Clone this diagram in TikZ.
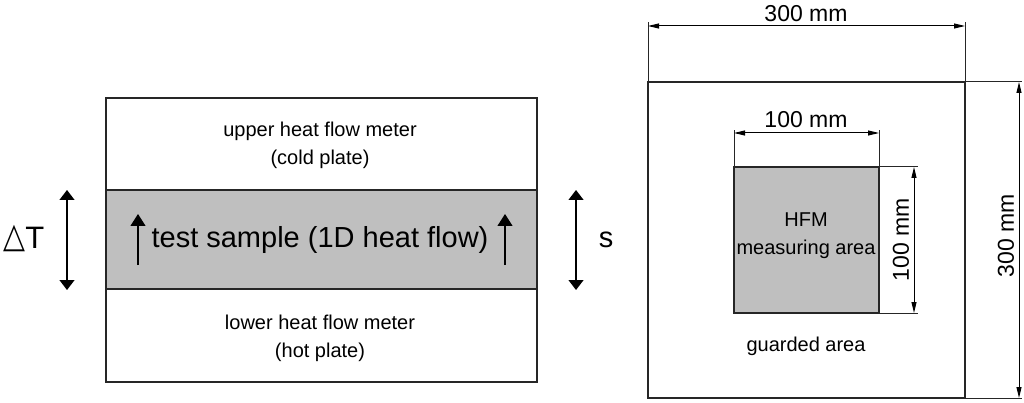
\documentclass[tikz,border=0pt]{standalone}
\usepackage{fontspec}
\setmainfont{Liberation Sans}
\newfontfamily\symfont{DejaVu Sans}
\usetikzlibrary{arrows.meta}
\definecolor{fillgray}{HTML}{BFBFBF}
\definecolor{linegray}{HTML}{262626}
\begin{document}
\begin{tikzpicture}[x=1pt,y=-1pt,
  box/.style={draw=linegray, line width=1.2pt, inner sep=0pt, outer sep=0pt, anchor=north west},
  grayfill/.style={fill=fillgray},
  lbl/.style={font=\fontsize{20}{28}\selectfont, align=center, inner sep=0pt},
  biglbl/.style={font=\fontsize{29}{34}\selectfont, inner sep=0pt},
  dimlbl/.style={font=\fontsize{23}{27}\selectfont, inner sep=0pt},
  bigarrow/.style={draw=black, line width=1.2pt, {Triangle[length=10pt,width=15pt]}-{Triangle[length=10pt,width=15pt]}},
  flowarrow/.style={draw=black, line width=1.2pt, -{Triangle[length=12pt,width=15pt]}},
  dimline/.style={draw=linegray, line width=1pt},
  dimarrow/.style={draw=black, line width=1pt, {Triangle[length=11pt,width=5pt]}-{Triangle[length=11pt,width=5pt]}}
]
\path[use as bounding box] (0,0) rectangle (1024,403);

% ---------- left diagram ----------
\node[box, minimum width=431pt, minimum height=92pt] (upper) at (106,98) {};
\node[box, grayfill, minimum width=431pt, minimum height=99pt] (sample) at (106,190) {};
\node[box, minimum width=431pt, minimum height=93pt] (lower) at (106,289) {};

\node[lbl] (uppertxt) at (320,145) {upper heat flow meter\\(cold plate)};
\node[lbl] (lowertxt) at (320,338) {lower heat flow meter\\(hot plate)};
\node[biglbl] (sampletxt) at (320,240) {test sample (1D heat flow)};

\coordinate (fl1) at (138,265);
\coordinate (fl1t) at (138,214);
\coordinate (fl2) at (505,265);
\coordinate (fl2t) at (505,214);
\draw[flowarrow] (fl1) -- (fl1t);
\draw[flowarrow] (fl2) -- (fl2t);

\coordinate (dta) at (67,190);
\coordinate (dtb) at (67,290);
\draw[bigarrow] (dta) -- (dtb);
\node[biglbl, font=\fontsize{31}{34}\selectfont] (dt) at (24,238) {\raisebox{1.5pt}{\scalebox{0.92}[1.12]{\symfont △}}T};

\coordinate (sa) at (576,190);
\coordinate (sb) at (576,290);
\draw[bigarrow] (sa) -- (sb);
\node[biglbl] (s) at (606,240) {s};

% ---------- right diagram ----------
\node[box, minimum width=317pt, minimum height=316pt] (outer) at (648,82) {};
\node[box, grayfill, minimum width=145pt, minimum height=146pt] (inner) at (734,167) {};

% extension lines
\coordinate (e1) at (648,22);
\coordinate (e2) at (965,22);
\coordinate (e3) at (1022,82);
\coordinate (e4) at (1022,398);
\draw[dimline] (outer.north west) -- (e1);
\draw[dimline] (outer.north east) -- (e2);
\draw[dimline] (outer.north east) -- (e3);
\draw[dimline] (outer.south east) -- (e4);

\coordinate (d1a) at (648,26);
\coordinate (d1b) at (965,26);
\draw[dimarrow] (d1a) -- (d1b);
\node[dimlbl] (d1) at (806,14) {300 mm};

\coordinate (d2a) at (1019,82);
\coordinate (d2b) at (1019,398);
\draw[dimarrow] (d2a) -- (d2b);
\node[dimlbl, rotate=90] (d2) at (1006,236) {300 mm};

% inner dims
\coordinate (i1) at (734,130);
\coordinate (i2) at (879,130);
\coordinate (i3) at (918,167);
\coordinate (i4) at (918,313);
\draw[dimline] (inner.north west) -- (i1);
\draw[dimline] (inner.north east) -- (i2);
\draw[dimline] (inner.north east) -- (i3);
\draw[dimline] (inner.south east) -- (i4);

\coordinate (d3a) at (734,133);
\coordinate (d3b) at (879,133);
\draw[dimarrow] (d3a) -- (d3b);
\node[dimlbl] (d3) at (806,120) {100 mm};

\coordinate (d4a) at (914,167);
\coordinate (d4b) at (914,313);
\draw[dimarrow] (d4a) -- (d4b);
\node[dimlbl, rotate=90] (d4) at (901,240) {100 mm};

\node[lbl] (hfm) at (806,236) {HFM\\measuring area};
\node[lbl] (guarded) at (806,346) {guarded area};
\end{tikzpicture}
\end{document}
